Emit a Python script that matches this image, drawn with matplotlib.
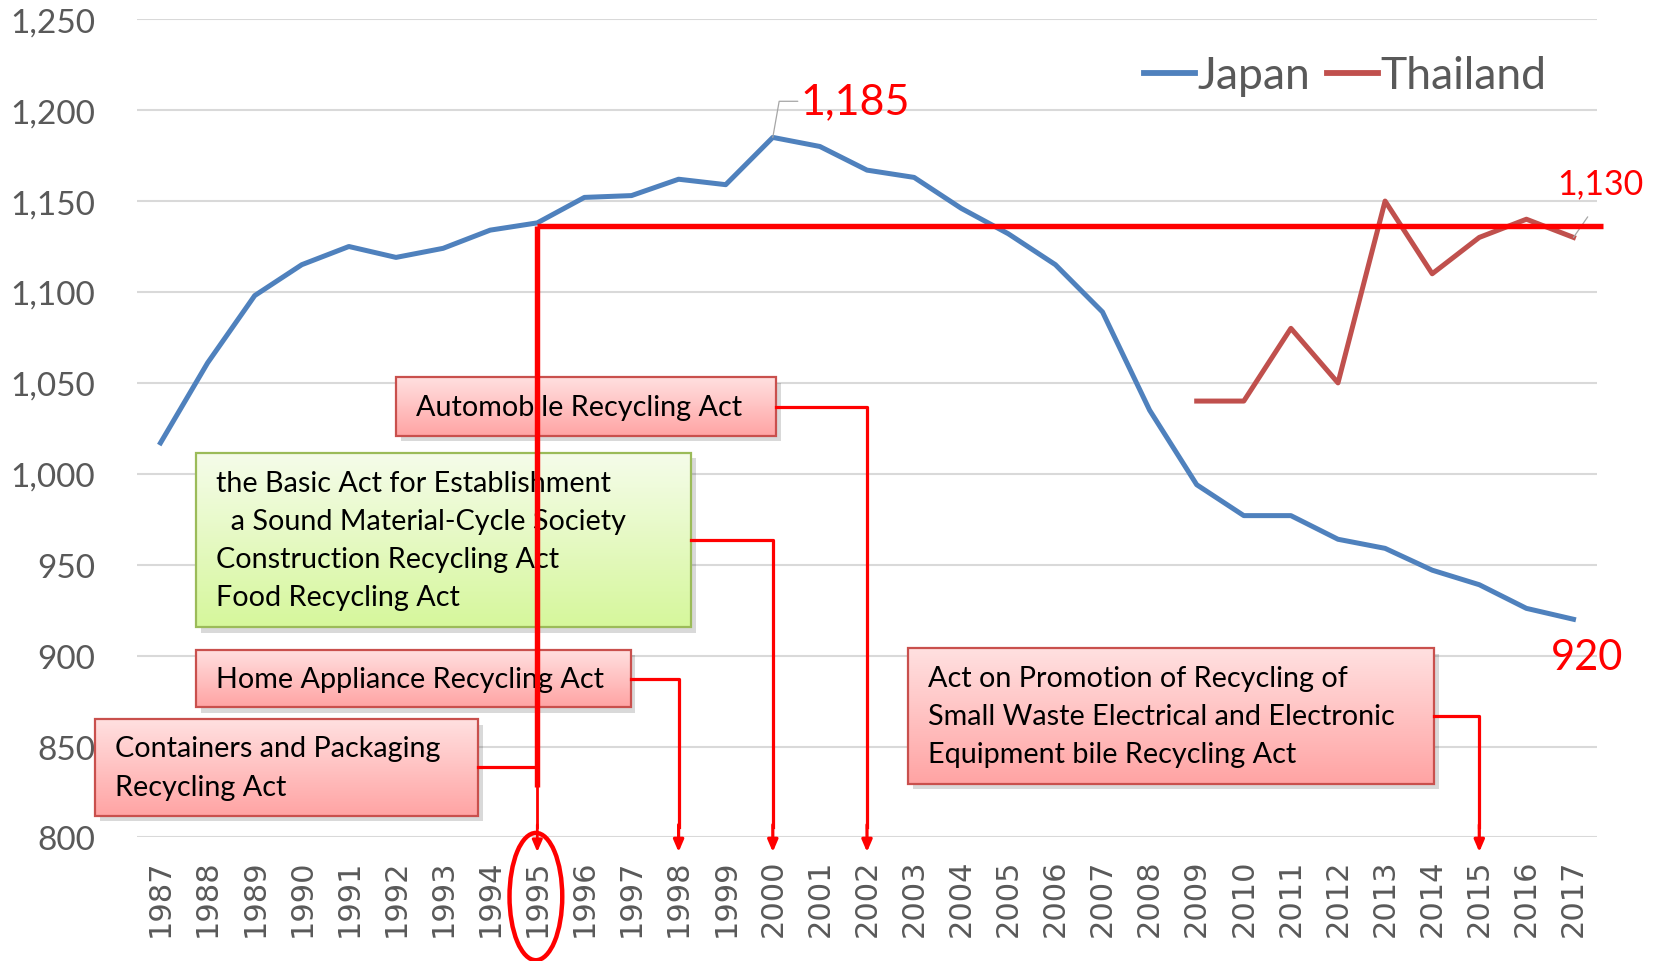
import numpy as np
import matplotlib
matplotlib.use("Agg")
import matplotlib.pyplot as plt
from matplotlib.patches import Rectangle, Ellipse

# data
years = [str(y) for y in range(1987, 2018)]
japan = [1017, 1061, 1098, 1115, 1125, 1119, 1124, 1134, 1138, 1152,
         1153, 1162, 1159, 1185, 1180, 1167, 1163, 1146, 1132, 1115,
         1089, 1035, 994, 977, 977, 964, 959, 947, 939, 926, 920]
thai_years = [str(y) for y in range(2009, 2018)]
thailand = [1040, 1040, 1080, 1050, 1150, 1110, 1130, 1140, 1130]
thai_level = 1136
yticks = [800, 850, 900, 950, 1000, 1050, 1100, 1150, 1200, 1250]

# law boxes: text, box (x0, x1, y0, y1) in category index / value, colour scheme, target year
laws = [
    ("Automobile Recycling Act", (5.0, 13.07, 1021, 1053), "pink", "2002"),
    ("the Basic Act for Establishment\n  a Sound Material-Cycle Society\n"
     "Construction Recycling Act\nFood Recycling Act",
     (0.76, 11.26, 915.5, 1011.5), "green", "2000"),
    ("Home Appliance Recycling Act", (0.76, 9.98, 871.5, 903.3), "pink", "1998"),
    ("Containers and Packaging\nRecycling Act", (-1.39, 6.75, 812, 865), "pink", "1995"),
    ("Act on Promotion of Recycling of\nSmall Waste Electrical and Electronic\n"
     "Equipment bile Recycling Act", (15.87, 27.04, 829.6, 904), "pink", "2015"),
]

BLUE = "#4F81BD"
BROWN = "#C0504D"
RED = "#FF0000"
GREY = "#595959"
CAL = ["Lato", "DejaVu Sans"]

fig = plt.figure(figsize=(16.56, 9.62), dpi=100)
ax = fig.add_axes([0.0827, 0.1284, 0.8817, 0.8506])

x = np.arange(len(years))
xt = np.array([years.index(y) for y in thai_years])

ax.plot(x, japan, color=BLUE, lw=3.6, solid_joinstyle="round", label="Japan", zorder=3)
ax.plot(xt, thailand, color=BROWN, lw=3.6, solid_joinstyle="round", label="Thailand", zorder=3)

ax.set_xlim(-0.5, len(years) - 0.5)
ax.set_ylim(800, 1250)
ax.set_yticks(yticks)
ax.set_yticklabels([f"{v:,}" for v in yticks], fontfamily=CAL, fontsize=24, color=GREY)
ax.set_xticks(x)
ax.set_xticklabels(years, rotation=90, fontfamily="DejaVu Sans", fontsize=22, color=GREY)
ax.tick_params(axis="y", length=0, pad=30)
ax.tick_params(axis="x", length=0, pad=15)
ax.grid(axis="y", color="#D9D9D9", lw=1.5)
ax.set_axisbelow(True)
for s in ax.spines.values():
    s.set_visible(False)

# boxes
schemes = {
    "pink": ("#FFE0E0", "#FFA4A4", "#C9504D"),
    "green": ("#F5FCEA", "#D6F79C", "#9BBB59"),
}
i95 = years.index("1995")
for text, (x0, x1, y0, y1), sch, target in laws:
    top, bot, edge = schemes[sch]
    c0 = np.array(matplotlib.colors.to_rgb(top))
    c1 = np.array(matplotlib.colors.to_rgb(bot))
    t = np.linspace(0, 1, 64)[:, None]
    grad = (c0 * (1 - t) + c1 * t)[:, None, :]
    ax.add_patch(Rectangle((x0 + 0.1, y0 - 3.0), x1 - x0, y1 - y0, fc="#000000",
                           alpha=0.15, ec="none", zorder=4, clip_on=False))
    im = ax.imshow(grad, extent=[x0, x1, y0, y1], aspect="auto", origin="upper", zorder=5)
    im.set_clip_on(False)
    ax.add_patch(Rectangle((x0, y0), x1 - x0, y1 - y0, fill=False, ec=edge, lw=1.6,
                           zorder=6, clip_on=False))
    ax.text(x0 + 0.42, (y0 + y1) / 2, text, ha="left", va="center", fontfamily=CAL,
            fontsize=20.7, color="black", linespacing=1.58, zorder=7, clip_on=False)

    xm = (y0 + y1) / 2
    xi = years.index(target)
    if target == "1995":
        ax.plot([x1, xi], [xm, xm], color=RED, lw=2.3, zorder=8, clip_on=False)
    else:
        ax.plot([x1, xi, xi], [xm, xm, 806], color=RED, lw=2.3, zorder=8, clip_on=False)
        ax.annotate("", xy=(xi, 792), xytext=(xi, 807),
                    arrowprops=dict(arrowstyle="-|>,head_length=0.7,head_width=0.3",
                                    color=RED, lw=2.3, shrinkA=0, shrinkB=0),
                    zorder=8, annotation_clip=False)

# Thailand level line and 1995 marker
ax.plot([i95, len(years) - 0.37], [thai_level, thai_level], color=RED, lw=3.9,
        zorder=9, clip_on=False, solid_capstyle="butt")
ax.plot([i95, i95], [thai_level, 828], color=RED, lw=3.9, zorder=9, clip_on=False,
        solid_capstyle="butt")
ax.plot([i95, i95], [828, 806], color=RED, lw=2.0, zorder=9, clip_on=False)
ax.annotate("", xy=(i95, 792), xytext=(i95, 807),
            arrowprops=dict(arrowstyle="-|>,head_length=0.7,head_width=0.3",
                            color=RED, lw=2.0, shrinkA=0, shrinkB=0),
            zorder=9, annotation_clip=False)
ax.add_patch(Ellipse((i95 - 0.03, 767.5), 1.12, 70, fill=False, ec=RED, lw=3.2,
                     zorder=9, clip_on=False))

# data labels
jmax = int(np.argmax(japan))
ax.annotate(f"{japan[jmax]:,}", xy=(x[jmax], japan[jmax]), xytext=(20, 26),
            textcoords="offset points", ha="left", va="center", color=RED,
            fontsize=31, fontfamily=CAL,
            arrowprops=dict(arrowstyle="-", color="#A6A6A6", lw=0.9,
                            connectionstyle="angle,angleA=0,angleB=80,rad=0",
                            shrinkA=0, shrinkB=0, relpos=(0, 0.5)))
ax.annotate(f"{japan[-1]:,}", xy=(x[-1], japan[-1]), xytext=(10, -27),
            textcoords="offset points", ha="center", va="center", color=RED,
            fontsize=30, fontfamily=CAL, annotation_clip=False)
ax.annotate(f"{thailand[-1]:,}", xy=(xt[-1], thailand[-1]), xytext=(19, 39),
            textcoords="offset points", ha="center", va="center", color=RED,
            fontsize=24.5, fontfamily=CAL, annotation_clip=False,
            arrowprops=dict(arrowstyle="-", color="#A6A6A6", lw=0.9,
                            shrinkA=13, shrinkB=0, relpos=(0.5, 0)))

leg = ax.legend(loc="upper right", bbox_to_anchor=(0.993, 1.005), ncol=2, frameon=False,
                prop={"family": CAL, "size": 32}, handlelength=1.15, handletextpad=0.06,
                columnspacing=0.38)
for t in leg.get_texts():
    t.set_color(GREY)
for h in leg.get_lines():
    h.set_linewidth(4.2)

fig.savefig("out.png", dpi=100)
